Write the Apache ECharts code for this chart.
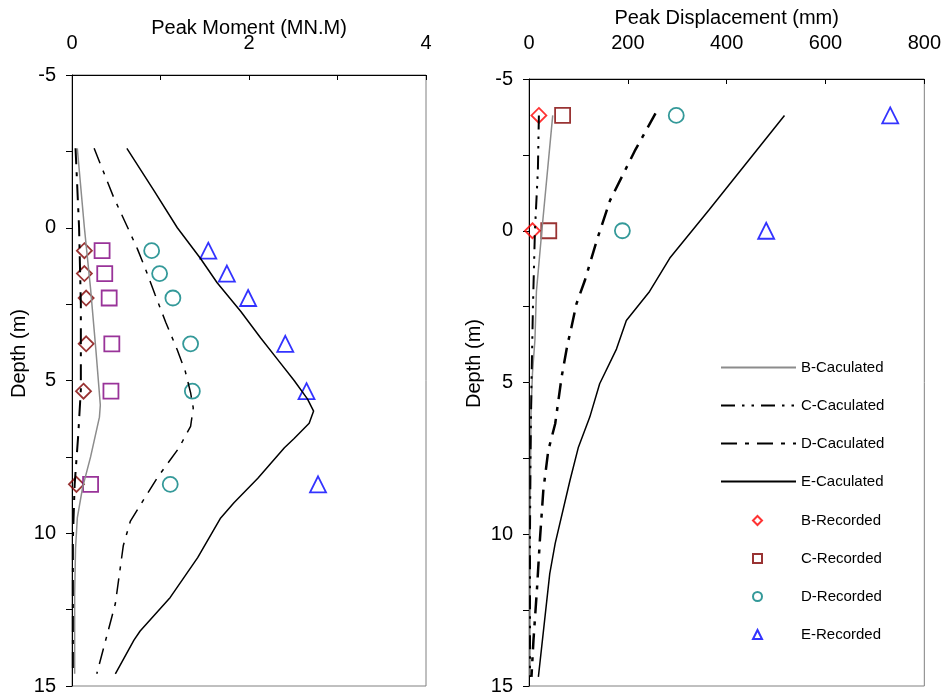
<!DOCTYPE html>
<html>
<head>
<meta charset="utf-8">
<script src="https://cdn.jsdelivr.net/npm/echarts@6/dist/echarts.min.js"></script>
<style>
    html, body { margin: 0; padding: 0; background: #ffffff; }
    #chart { width: 944px; height: 696px; }
</style>
</head>
<body>
<div id="chart"></div>
<script>
// ---- left panel: peak moment (MN.M) vs depth (m)
var bMomDepth = [-2.6, 0, 2, 4, 5.8, 6.2, 7.5, 8.5, 9.5, 10.5, 12, 14.6];
var bMom      = [0.06, 0.14, 0.21, 0.27, 0.32, 0.31, 0.21, 0.12, 0.06, 0.04, 0.03, 0.03];
var cMomDepth = [-2.6, 0, 2.5, 4, 5.3, 6.8, 8.4, 10.2, 12, 14.6];
var cMom      = [0.04, 0.08, 0.10, 0.10, 0.10, 0.07, 0.03, 0.01, 0.01, 0.01];
var dMomDepth = [-2.6, -1, 0, 0.7, 1.5, 2.2, 3.1, 4, 4.7, 5.4, 5.9, 6.5, 7.2, 8.2, 9.6, 10.4, 12.3, 14.6];
var dMom      = [0.25, 0.47, 0.63, 0.74, 0.85, 0.94, 1.06, 1.19, 1.28, 1.34, 1.37, 1.34, 1.21, 0.96, 0.66, 0.58, 0.49, 0.28];
var eMomDepth = [-2.6, -1.2, 0, 1, 1.8, 2.75, 3.6, 4.3, 5, 5.6, 6, 6.4, 6.9, 7.2, 8.2, 9, 9.5, 10.8, 12.1, 13.2, 13.5, 14.6];
var eMom      = [0.62, 0.93, 1.19, 1.45, 1.64, 1.91, 2.13, 2.32, 2.51, 2.66, 2.73, 2.68, 2.51, 2.40, 2.10, 1.83, 1.68, 1.42, 1.11, 0.77, 0.70, 0.49];

var momRecDepth = [0.75, 1.5, 2.3, 3.8, 5.35, 8.4];
var bMomRec = [0.14, 0.14, 0.16, 0.16, 0.13, 0.05];
var cMomRec = [0.34, 0.37, 0.42, 0.45, 0.44, 0.21];
var dMomRec = [0.90, 0.99, 1.14, 1.34, 1.36, 1.11];
var eMomRec = [1.54, 1.75, 1.99, 2.41, 2.65, 2.78];

// ---- right panel: peak displacement (mm) vs depth (m)
var bDispDepth = [-3.8, 0, 2, 3.6, 4.7, 6, 10, 14.7];
var bDisp      = [48, 26, 15, 12, 7, 4, 2, 2];
var cDispDepth = [-3.8, -2, 0, 2.5, 5, 7.5, 10, 14.7];
var cDisp      = [20, 18, 12, 8, 5, 3, 2, 2];
var dDispDepth = [-3.87, -2.63, -2.3, -1, 0.33, 1.64, 2.41, 3.4, 3.73, 4.82, 6.36, 7.24, 8.55, 10.2, 11.84, 13.5, 14.7];
var dDisp      = [256, 214, 204, 164, 137, 113, 96, 83, 78, 66, 53, 39, 29, 22, 16, 9, 5];
var eDispDepth = [-3.8, -0.7, 0.9, 2, 2.96, 3.9, 5.04, 6.14, 7.13, 8.22, 10.3, 11.3, 14.7];
var eDisp      = [517, 365, 285, 244, 197, 177, 143, 123, 100, 83, 53, 42, 19];

var dispRecDepth = [-3.8, 0];
var bDispRec = [20, 7];
var cDispRec = [68, 40];
var dDispRec = [298, 189];
var eDispRec = [731, 480];

var momTicks = [0, 1, 2, 3, 4];
var dispTicks = [0, 200, 400, 600, 800];
var depthTicks = [-5, 0, 5, 10, 15];

var calcNames = ['B-Caculated', 'C-Caculated', 'D-Caculated', 'E-Caculated'];
var recNames = ['B-Recorded', 'C-Recorded', 'D-Recorded', 'E-Recorded'];

function pairs(vals, depths) {
    return vals.map(function (v, i) { return [v, depths[i]]; });
}

var font = 'Liberation Sans, Arial, sans-serif';
var dashC = [14, 7, 2.5, 7, 2.5, 7];
var dashD = [16, 8, 4, 8];

function lineSeries(name, idx, data, color, width, type) {
    return {
        name: name, type: 'line', xAxisIndex: idx, yAxisIndex: idx,
        data: data, symbol: 'none', smooth: false,
        lineStyle: { color: color, width: width, type: type },
        itemStyle: { color: color }
    };
}
function recSeries(name, idx, data, symbol, size, color) {
    return {
        name: name, type: 'scatter', xAxisIndex: idx, yAxisIndex: idx,
        data: data, symbol: symbol, symbolSize: size,
        itemStyle: { color: 'transparent', borderColor: color, borderWidth: 1.8 }
    };
}

function xAxisOf(idx, name, min, max, interval, labelFn, margin, nameGap) {
    return {
        type: 'value', gridIndex: idx, position: 'top',
        min: min, max: max, interval: interval,
        name: name, nameLocation: 'middle', nameGap: nameGap, nameMoveOverlap: false,
        nameTextStyle: { color: '#000', fontSize: 20, fontFamily: font },
        axisLine: { onZero: false, lineStyle: { color: '#000', width: 1 } },
        axisTick: { inside: true, length: 5, lineStyle: { color: '#000' } },
        axisLabel: { formatter: labelFn, margin: margin, color: '#000', fontSize: 20, fontFamily: font },
        splitLine: { show: false }
    };
}
function yAxisOf(idx, nameGap, namePad) {
    return {
        type: 'value', gridIndex: idx, inverse: true,
        min: depthTicks[0], max: depthTicks[depthTicks.length - 1], interval: 2.5,
        name: 'Depth (m)', nameLocation: 'middle', nameGap: nameGap, nameRotate: 90,
        nameTextStyle: { color: '#000', fontSize: 20, fontFamily: font, padding: [0, 0, 0, namePad] },
        axisLine: { onZero: false, lineStyle: { color: '#000', width: 1 } },
        axisTick: { length: 6, lineStyle: { color: '#000' } },
        axisLabel: {
            formatter: function (v) { return depthTicks.indexOf(v) >= 0 ? String(v) : ''; },
            margin: 16, color: '#000', fontSize: 20, fontFamily: font
        },
        splitLine: { show: false }
    };
}

var chart = echarts.init(document.getElementById('chart'));
var option = {
    animation: false,
    backgroundColor: '#ffffff',
    textStyle: { fontFamily: font },
    grid: [
        { left: 72, top: 75, width: 354, height: 612, show: true, borderColor: '#808080', borderWidth: 1 },
        { left: 529, top: 79, width: 396, height: 608, show: true, borderColor: '#808080', borderWidth: 1 }
    ],
    xAxis: [
        xAxisOf(0, 'Peak Moment (MN.M)', momTicks[0], momTicks[momTicks.length - 1], 1,
            function (v) { return v % 2 === 0 ? String(v) : ''; }, 22, 37),
        xAxisOf(1, 'Peak Displacement (mm)', dispTicks[0], dispTicks[dispTicks.length - 1], 200,
            function (v) { return String(v); }, 26, 51)
    ],
    yAxis: [yAxisOf(0, 40, 54), yAxisOf(1, 45, 38)],
    legend: [
        {
            orient: 'vertical', left: 715, top: 355,
            itemWidth: 75, itemHeight: 9, itemGap: 23,
            textStyle: { color: '#000', fontSize: 15, fontFamily: font },
            data: calcNames.map(function (n) { return { name: n, itemStyle: { opacity: 0 } }; })
        },
        {
            orient: 'vertical', left: 747, top: 508,
            itemWidth: 9, itemHeight: 9, itemGap: 23,
            textStyle: { color: '#000', fontSize: 15, fontFamily: font, padding: [0, 0, 0, 34] },
            data: recNames
        }
    ],
    series: [
        // right panel first so the legend picks its styles
        lineSeries(calcNames[0], 1, pairs(bDisp, bDispDepth), '#8c8c8c', 1.5, 'solid'),
        lineSeries(calcNames[1], 1, pairs(cDisp, cDispDepth), '#000', 2, dashC),
        lineSeries(calcNames[2], 1, pairs(dDisp, dDispDepth), '#000', 2.5, dashD),
        lineSeries(calcNames[3], 1, pairs(eDisp, eDispDepth), '#000', 1.5, 'solid'),
        recSeries(recNames[0], 1, pairs(bDispRec, dispRecDepth), 'diamond', 15, '#ff0000'),
        recSeries(recNames[1], 1, pairs(cDispRec, dispRecDepth), 'rect', 15, '#800000'),
        recSeries(recNames[2], 1, pairs(dDispRec, dispRecDepth), 'circle', 15, '#008080'),
        recSeries(recNames[3], 1, pairs(eDispRec, dispRecDepth), 'triangle', 16, '#0000ff'),

        lineSeries(calcNames[0], 0, pairs(bMom, bMomDepth), '#8c8c8c', 1.5, 'solid'),
        lineSeries(calcNames[1], 0, pairs(cMom, cMomDepth), '#000', 2, dashD),
        lineSeries(calcNames[2], 0, pairs(dMom, dMomDepth), '#000', 1.5, dashD),
        lineSeries(calcNames[3], 0, pairs(eMom, eMomDepth), '#000', 1.5, 'solid'),
        recSeries(recNames[0], 0, pairs(bMomRec, momRecDepth), 'diamond', 15, '#800000'),
        recSeries(recNames[1], 0, pairs(cMomRec, momRecDepth), 'rect', 15, '#800080'),
        recSeries(recNames[2], 0, pairs(dMomRec, momRecDepth), 'circle', 15, '#008080'),
        recSeries(recNames[3], 0, pairs(eMomRec, momRecDepth), 'triangle', 16, '#0000ff')
    ]
};
chart.setOption(option);
</script>
</body>
</html>
